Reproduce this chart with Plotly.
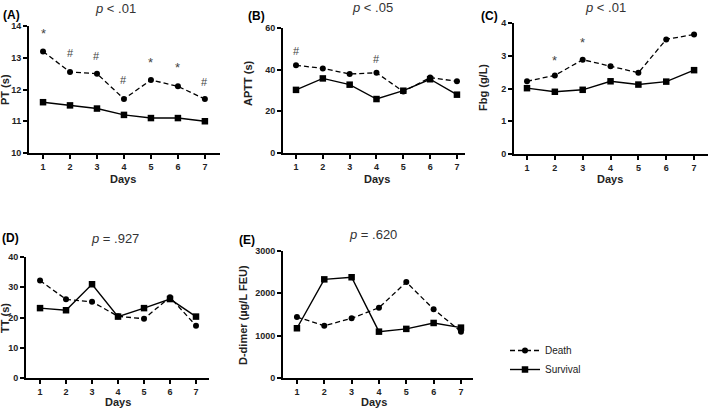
import plotly.graph_objects as go

days = [1, 2, 3, 4, 5, 6, 7]

pt_death = [13.2, 12.55, 12.5, 11.7, 12.3, 12.1, 11.7]
pt_surv = [11.6, 11.5, 11.4, 11.2, 11.1, 11.1, 11.0]
pt_sig = ["*", "#", "#", "#", "*", "*", "#"]
pt_sig_y = [13.75, 13.15, 13.05, 12.3, 12.85, 12.7, 12.25]

aptt_death = [42.1, 40.6, 37.9, 38.5, 29.5, 36.2, 34.4]
aptt_surv = [30.3, 35.8, 32.8, 25.9, 29.9, 35.4, 28.0]
aptt_sig = ["#", "", "", "#", "", "", ""]
aptt_sig_y = [49, None, None, 45, None, None, None]

fbg_death = [2.22, 2.4, 2.88, 2.68, 2.48, 3.5, 3.65]
fbg_surv = [2.01, 1.9, 1.96, 2.22, 2.12, 2.21, 2.56]
fbg_sig = ["", "*", "*", "", "", "*", ""]
fbg_sig_y = [None, 2.85, 3.4, None, None, 4.03, None]

tt_death = [32.2, 26.0, 25.2, 20.4, 19.6, 26.7, 17.3]
tt_surv = [23.1, 22.4, 31.0, 20.3, 23.1, 26.1, 20.3]

dd_death = [1440, 1235, 1410, 1660, 2265, 1625, 1095]
dd_surv = [1175, 2330, 2380, 1095, 1160, 1300, 1190]

W, H = 709, 408

panels = [
    dict(k="", d=pt_death, s=pt_surv, x0=29, x1=220, y0=26, y1=153, xr=[0.48, 7.56], yr=[10, 14], dt=1,
         ylab="PT (s)", ylx=5, yly=90, lab="(A)", labx=11, laby=15, p="<i>p</i> < .01", px_=115, py_=8,
         dx=123, dy=179, sig=pt_sig, sigy=pt_sig_y),
    dict(k="2", d=aptt_death, s=aptt_surv, x0=283, x1=465, y0=28, y1=153, xr=[0.515, 7.3], yr=[0, 60], dt=20,
         ylab="APTT (s)", ylx=248, yly=83, lab="(B)", labx=256, laby=16, p="<i>p</i> < .05", px_=372, py_=7,
         dx=377, dy=179, sig=aptt_sig, sigy=aptt_sig_y),
    dict(k="3", d=fbg_death, s=fbg_surv, x0=514, x1=708, y0=23, y1=154, xr=[0.533, 7.5], yr=[0, 4], dt=1,
         ylab="Fbg (g/L)", ylx=483, yly=88, lab="(C)", labx=489, laby=16, p="<i>p</i> < .01", px_=605, py_=7,
         dx=610, dy=179, sig=fbg_sig, sigy=fbg_sig_y),
    dict(k="4", d=tt_death, s=tt_surv, x0=26, x1=209, y0=257, y1=378, xr=[0.46, 7.5], yr=[0, 40], dt=10,
         ylab="TT (s)", ylx=5, yly=318, lab="(D)", labx=10, laby=238, p="<i>p</i> = .927", px_=115, py_=238,
         dx=118, dy=402, sig=None, sigy=None),
    dict(k="5", d=dd_death, s=dd_surv, x0=283, x1=473, y0=251, y1=378, xr=[0.49, 7.44], yr=[0, 3000], dt=1000,
         ylab="D-dimer (µg/L FEU)", ylx=243, yly=315, lab="(E)", labx=247, laby=240, p="<i>p</i> = .620", px_=373, py_=235,
         dx=374, dy=402, sig=None, sigy=None),
]

fig = go.Figure()
ann = []
FONT = "Liberation Sans, Arial, sans-serif"


def pa(x, y, text, font, angle=0):
    return dict(x=x / W, y=1 - y / H, xref="paper", yref="paper", text=text, textangle=angle,
                xanchor="center", yanchor="middle", showarrow=False, font=font)


for i, p in enumerate(panels):
    xa = "x" + p["k"]
    ya = "y" + p["k"]
    fig.add_trace(go.Scatter(
        x=days, y=p["d"], xaxis=xa, yaxis=ya, mode="lines+markers",
        line=dict(color="black", width=1.3, dash="5px,3px"),
        marker=dict(symbol="circle", size=6, color="black"),
        name="Death", showlegend=(i == 0), legendrank=1))
    fig.add_trace(go.Scatter(
        x=days, y=p["s"], xaxis=xa, yaxis=ya, mode="lines+markers",
        line=dict(color="black", width=1.4),
        marker=dict(symbol="square", size=6.5, color="black"),
        name="Survival", showlegend=(i == 0), legendrank=2))
    axis_common = dict(showline=True, linecolor="black", linewidth=1.8, ticks="outside",
                       ticklen=4, tickwidth=1.5, tickcolor="black", showgrid=False, zeroline=False,
                       automargin=False,
                       tickfont=dict(family=FONT, size=9, color="#222", weight="bold"))
    fig.update_layout(**{
        "xaxis" + p["k"]: dict(domain=[p["x0"] / W, p["x1"] / W], anchor=ya, range=p["xr"],
                               tickmode="array", tickvals=days, **axis_common),
        "yaxis" + p["k"]: dict(domain=[1 - p["y1"] / H, 1 - p["y0"] / H], anchor=xa, range=p["yr"],
                               dtick=p["dt"], tick0=0, **axis_common),
    })
    ann.append(pa(p["ylx"], p["yly"], p["ylab"],
                  dict(family=FONT, size=11, color="#222", weight="bold"), angle=-90))
    ann.append(pa(p["labx"], p["laby"], p["lab"],
                  dict(family=FONT, size=12, color="black", weight="bold")))
    ann.append(pa(p["px_"], p["py_"], p["p"], dict(family=FONT, size=13, color="#333")))
    ann.append(pa(p["dx"], p["dy"], "Days", dict(family=FONT, size=11, color="#222", weight="bold")))
    if p["sig"]:
        for dd, s, sy in zip(days, p["sig"], p["sigy"]):
            if s:
                ann.append(dict(x=dd, y=sy, xref=xa, yref=ya, text=s, showarrow=False,
                                xanchor="center", yanchor="middle",
                                font=dict(family=FONT, size=11 if s == "#" else 13, color="#444")))

fig.update_layout(
    width=W, height=H, margin=dict(l=0, r=0, t=0, b=0, autoexpand=False),
    paper_bgcolor="white", plot_bgcolor="white",
    annotations=ann,
    showlegend=True,
    legend=dict(x=505 / W, y=1 - 336 / H, xanchor="left", yanchor="top",
                font=dict(family=FONT, size=10, color="#222"), bgcolor="rgba(0,0,0,0)",
                itemwidth=30, tracegroupgap=4),
)

fig.write_html("out.html", config={"displayModeBar": False},
               post_script="document.body.style.margin='0';document.body.style.padding='0';")
